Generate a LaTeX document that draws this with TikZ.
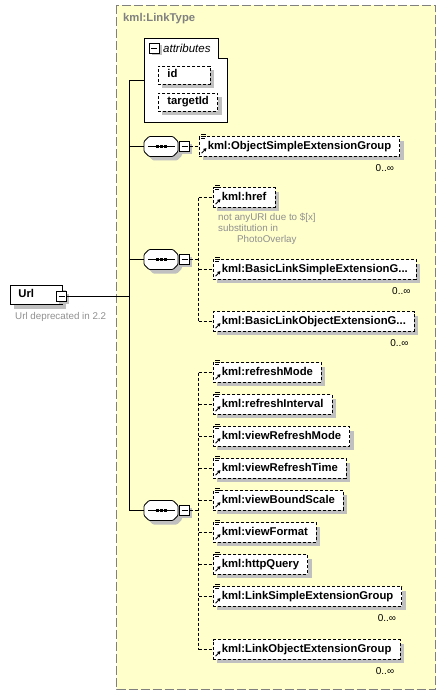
\documentclass[tikz,border=0pt]{standalone}
\usepackage{fontspec}
\setmainfont{Liberation Sans}
\usetikzlibrary{shadows,arrows.meta}
\definecolor{ybg}{HTML}{FFFFCC}
\definecolor{bordergray}{HTML}{808080}
\definecolor{shadowgray}{HTML}{C0C0C0}
\definecolor{notegray}{HTML}{909090}
\newcommand\elfont{\fontsize{11.3}{13}\selectfont\bfseries}
\tikzset{
  sh/.style={drop shadow={shadow xshift=4pt,shadow yshift=-4pt,fill=shadowgray,opacity=1}},
  smallsh/.style={drop shadow={shadow xshift=2.5pt,shadow yshift=-2.5pt,fill=shadowgray,opacity=1}},
  elem/.style={draw=black, line width=0.8pt, dash pattern=on 3pt off 2pt, fill=white, sh,
    anchor=west, inner xsep=8.5pt, inner ysep=0pt, minimum height=19.5pt,
    text height=8.2pt, text depth=2.4pt, font=\elfont},
  attrbox/.style={elem, minimum height=18pt, inner xsep=9pt},
  urlbox/.style={draw=black, line width=0.8pt, fill=white, sh, anchor=west,
    text width=36pt, align=left, inner xsep=8pt, inner ysep=0pt, minimum height=19pt,
    text height=8.2pt, text depth=2.4pt, font=\elfont},
  minusbox/.style={draw=black, line width=0.8pt, fill=white, smallsh, minimum size=10pt, inner sep=0pt,
    path picture={\draw[line width=0.8pt] ([xshift=2pt]path picture bounding box.west) -- ([xshift=-2pt]path picture bounding box.east);}},
  seqn/.style={minimum width=34pt, minimum height=20pt, inner sep=0pt},
  conn/.style={line width=0.8pt, dash pattern=on 3pt off 2pt},
  solidline/.style={line width=1pt},
  mult/.style={anchor=north east, inner sep=0pt, font=\fontsize{10}{12}\selectfont},
  grayfont/.style={text=notegray, inner sep=0pt}
}
\newcommand\seqdraw[1]{%
  \begin{scope}[shift={(#1.center)}]
    \fill[shadowgray, shift={(4,4)}, rounded corners=1pt] (-17,-5)--(-12,-10)--(12,-10)--(17,-5)--(17,5)--(12,10)--(-12,10)--(-17,5)--cycle;
    \draw[line width=0.8pt, fill=white, rounded corners=1pt] (-17,-5)--(-12,-10)--(12,-10)--(17,-5)--(17,5)--(12,10)--(-12,10)--(-17,5)--cycle;
    \draw[line width=1pt] (-13,0)--(14,0);
    \fill (-5.5,-1.5) rectangle (-2.5,1.5);
    \fill (-1.5,-1.5) rectangle (1.5,1.5);
    \fill (2.5,-1.5) rectangle (5.5,1.5);
  \end{scope}}
\newcommand\iconlines[1]{%
  \begin{scope}[shift={(#1.north west)}, line width=0.55pt]
    \draw (2,-2.5)--(7,-2.5) (2,-0.5)--(7,-0.5) (2,1.5)--(6,1.5);
  \end{scope}}
\newcommand\iconarrow[1]{%
  \begin{scope}[shift={(#1.south west)}]
    \draw[line width=0.9pt,-{Triangle[length=3pt,width=3.4pt]}] (2.5,-3.5) -- (7.5,-8.5);
  \end{scope}}
\begin{document}
\begin{tikzpicture}[x=1pt,y=-1pt]
\useasboundingbox (0,0) rectangle (446,695);
% type box
\draw[bordergray, line width=1pt, dash pattern=on 9pt off 3pt, fill=ybg] (116.5,5.5) rectangle (435.5,689.5);
\node[anchor=west, text=bordergray, font=\elfont, inner sep=0pt] (lt) at (123,19) {kml:LinkType};

% attributes
\draw[line width=0.8pt, fill=white] (144.5,38.5) -- (218.5,38.5) -- (218.5,58.5) -- (227.5,58.5) -- (227.5,122.5) -- (144.5,122.5) -- cycle;
\node[minusbox] (am) at (154,48) {};
\node[anchor=west, font=\fontsize{11.5}{13}\selectfont\itshape, inner sep=0pt] (attl) at (163,48) {attributes};
\node[attrbox] (id) at (158,75) {id\hspace*{24pt}};
\node[attrbox] (tid) at (158,102) {targetId};
\coordinate (attrw) at (144.5,80.5);

% trunk
\coordinate (t0) at (129.5,80.5);
\coordinate (t1) at (129.5,146.5);
\coordinate (t2) at (129.5,259.5);
\coordinate (tu) at (129.5,296.5);
\coordinate (t3) at (129.5,510.5);
\draw[solidline] (t0) -- (t3);
\draw[solidline] (t0) -- (attrw);

% Url
\node[urlbox] (url) at (10,295) {Url};
\node[minusbox] (um) at (61.5,296.5) {};
\draw[solidline] (um.east) -- (tu);
\node[grayfont, anchor=west, font=\fontsize{9.8}{11}\selectfont] (urlnote) at (15,317) {Url deprecated in 2.2};

% sequence 1
\node[seqn] (s1) at (161,146.5) {};
\draw[solidline] (t1) -- (s1.west);
\seqdraw{s1}
\node[minusbox] (m1) at (184.5,146.5) {};
\node[elem] (e1) at (199,146.5) {kml:ObjectSimpleExtensionGroup};
\draw[conn] (m1.east) -- (e1.west);
\iconlines{e1}\iconarrow{e1}
\node[mult] at ([xshift=-6pt,yshift=-8pt]e1.south east) {0..∞};

% sequence 2
\node[seqn] (s2) at (161,259.5) {};
\draw[solidline] (t2) -- (s2.west);
\seqdraw{s2}
\node[minusbox] (m2) at (184.5,259.5) {};
\coordinate (v2) at (198.5,259.5);
\coordinate (v2top) at (198.5,197.5);
\coordinate (v2bot) at (198.5,321.5);
\draw[conn] (m2.east) -- (v2);
\draw[conn] (v2top) -- (v2bot);
\node[elem] (href) at (213,197.5) {kml:href};
\node[elem] (blseg) at (213,269.5) {kml:BasicLinkSimpleExtensionG...};
\node[elem] (bloeg) at (213,321.5) {kml:BasicLinkObjectExtensionG...};
\foreach \n in {href,blseg,bloeg} {\draw[conn] (\n.west -| v2) -- (\n.west);}
\iconlines{href}\iconarrow{href}
\iconlines{blseg}\iconarrow{blseg}
\iconarrow{bloeg}
\node[mult] at ([xshift=-6pt,yshift=-8pt]blseg.south east) {0..∞};
\node[mult] at ([xshift=-6pt,yshift=-8pt]bloeg.south east) {0..∞};
\node[grayfont, anchor=north west, align=left, font=\fontsize{9.8}{11}\selectfont] (note) at (218,213.5)
  {not anyURI due to \$[x]\\substitution in\\\hspace*{19pt}PhotoOverlay};

% sequence 3
\node[seqn] (s3) at (161,510.5) {};
\draw[solidline] (t3) -- (s3.west);
\seqdraw{s3}
\node[minusbox] (m3) at (184.5,510.5) {};
\coordinate (v3) at (198.5,510.5);
\coordinate (v3top) at (198.5,372.5);
\coordinate (v3bot) at (198.5,649.5);
\draw[conn] (m3.east) -- (v3);
\draw[conn] (v3top) -- (v3bot);
\node[elem] (rm) at (213,372.5) {kml:refreshMode};
\node[elem] (ri) at (213,404.5) {kml:refreshInterval};
\node[elem] (vrm) at (213,436.5) {kml:viewRefreshMode};
\node[elem] (vrt) at (213,468.5) {kml:viewRefreshTime};
\node[elem] (vbs) at (213,500.5) {kml:viewBoundScale};
\node[elem] (vf) at (213,532.5) {kml:viewFormat};
\node[elem] (hq) at (213,564.5) {kml:httpQuery};
\node[elem] (lseg) at (213,596.5) {kml:LinkSimpleExtensionGroup};
\node[elem] (loeg) at (213,649.5) {kml:LinkObjectExtensionGroup};
\foreach \n in {rm,ri,vrm,vrt,vbs,vf,hq,lseg,loeg} {\draw[conn] (\n.west -| v3) -- (\n.west);}
\foreach \n in {rm,ri,vrm,vrt,vbs,vf,hq,lseg} {\iconlines{\n}}
\foreach \n in {rm,ri,vrm,vrt,vbs,vf,hq,lseg,loeg} {\iconarrow{\n}}
\node[mult] at ([xshift=-6pt,yshift=-8pt]lseg.south east) {0..∞};
\node[mult] at ([xshift=-6pt,yshift=-8pt]loeg.south east) {0..∞};
\end{tikzpicture}
\end{document}
